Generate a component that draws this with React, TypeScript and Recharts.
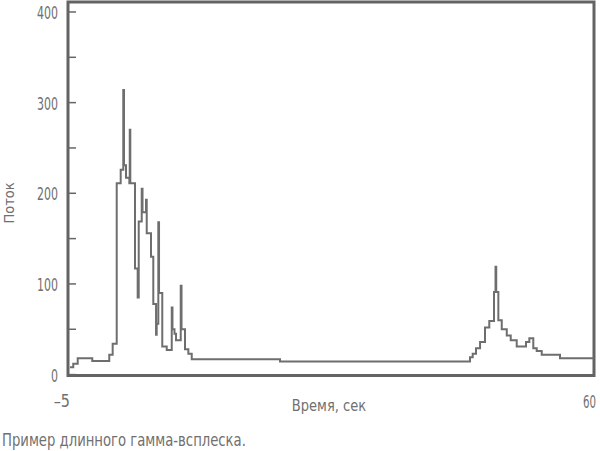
import React from 'react';
import { LineChart, Line, XAxis, YAxis, ReferenceArea } from 'recharts';

// bin start times (s) and counts
const times = [
  -4.75, -4.35, -3.8, -2.0, 0.1, 0.52, 1.02, 1.51, 1.83, 1.92, 2.17, 2.58, 2.63, 2.7, 3.28,
  3.61, 3.74, 4.11, 4.21, 4.64, 4.73, 5.26, 5.54, 5.88, 5.96, 6.16, 6.25, 6.65, 7.2, 7.82,
  7.91, 8.16, 8.35, 8.93, 9.03, 9.46, 9.87, 10.29, 21.2, 44.68, 45.01, 45.42, 45.92, 46.53,
  47.06, 47.64, 47.83, 47.92, 48.18, 48.6, 49.22, 49.71, 50.45, 51.6, 52.01, 52.5, 52.92,
  53.54, 55.8, 60,
];
const flux = [
  8, 12, 18, 15, 22, 34, 211, 226, 314, 231, 217, 211, 270, 211, 117,
  85, 169, 205, 179, 193, 156, 130, 78, 44, 56, 168, 90, 31, 27, 74,
  50, 45, 38, 98, 50, 28, 23, 17, 14.5, 19, 23, 29, 36, 52,
  59, 91, 119, 91, 60, 50, 43, 38, 31, 36, 40, 29, 26,
  22, 18, 18,
];
const yTicks = [0, 50, 100, 150, 200, 250, 300, 350, 400];
const xTicks = [-5, 60];
const xTickText: { [k: number]: string } = { [-5]: '–5', 60: '60' };

const INK = '#707070';
const FONT = "'DejaVu Sans', sans-serif";

const data = times.map((t, i) => ({ t, flux: flux[i] }));

// the original uses a condensed face: squeeze DejaVu horizontally
const Narrow = ({ x, y, sx = 0.62, rotate = 0, children, ...rest }: any) => (
  <text
    x={0}
    y={0}
    transform={`translate(${x}, ${y}) rotate(${rotate}) scale(${sx}, 1)`}
    fill={INK}
    fontFamily={FONT}
    dominantBaseline="central"
    {...rest}
  >
    {children}
  </text>
);

const YTick = ({ y, payload }: any) => {
  const v = payload.value;
  return (
    <g>
      <line x1={69} x2={76} y1={y} y2={y} stroke="#666" strokeWidth={1.5} />
      {v % 100 === 0 && (
        <Narrow x={58} y={y + 1} sx={0.61} textAnchor="end" fontSize={18}>
          {v}
        </Narrow>
      )}
    </g>
  );
};

const XTick = ({ x, payload }: any) => {
  const v = payload.value;
  const neg = v < 0;
  return (
    <Narrow x={neg ? x + 2 : 596} y={401} sx={neg ? 0.8 : 0.57} textAnchor="end" fontSize={18}>
      {xTickText[v]}
    </Narrow>
  );
};

export default function App() {
  return (
    <div style={{ position: 'absolute', left: 0, top: 0, width: 600, height: 451, background: '#fff' }}>
      <LineChart width={600} height={451} data={data} margin={{ top: 2, right: 6, left: 0, bottom: 0 }}>
        <XAxis
          dataKey="t"
          type="number"
          domain={[-5, 60]}
          ticks={xTicks}
          allowDataOverflow
          height={75.5}
          axisLine={false}
          tickLine={false}
          tick={<XTick />}
          label={{
            content: () => (
              <Narrow x={329} y={406} sx={0.87} textAnchor="middle" fontSize={15}>
                Время, сек
              </Narrow>
            ),
          }}
        />
        <YAxis
          type="number"
          domain={[-1, 411]}
          ticks={yTicks}
          allowDataOverflow
          width={68}
          axisLine={false}
          tickLine={false}
          tick={<YTick />}
          label={{
            content: () => (
              <Narrow x={9} y={203} rotate={-90} sx={0.9} textAnchor="middle" fontSize={14.5}>
                Поток
              </Narrow>
            ),
          }}
        />
        <Line type="stepAfter" dataKey="flux" stroke="#6e6e6e" strokeWidth={2} dot={false} activeDot={false} isAnimationActive={false} />
        <ReferenceArea x1={-5} x2={60} y1={-1} y2={411} fill="none" stroke="#636363" strokeWidth={3} ifOverflow="visible" />
      </LineChart>
      <svg width={600} height={24} style={{ position: 'absolute', left: 0, top: 427 }}>
        <Narrow x={2} y={13} sx={0.777} fontSize={17}>
          Пример длинного гамма-всплеска.
        </Narrow>
      </svg>
    </div>
  );
}
